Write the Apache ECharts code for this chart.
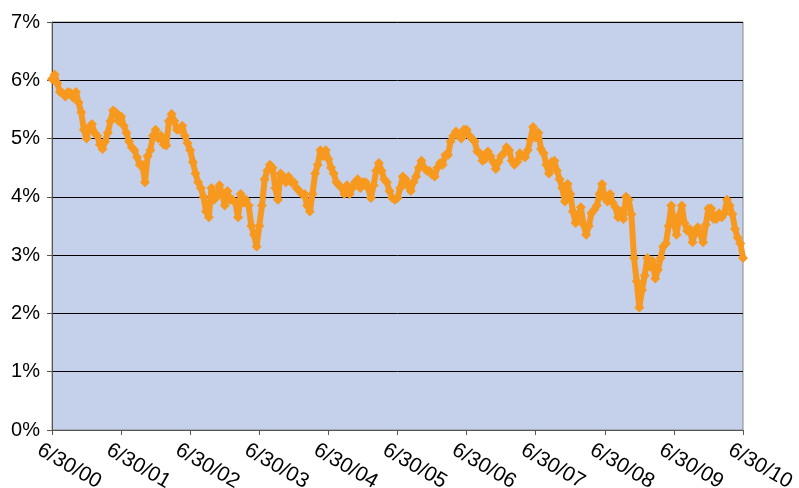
<!DOCTYPE html>
<html>
<head>
<meta charset="utf-8">
<script src="https://cdn.jsdelivr.net/npm/echarts@6/dist/echarts.min.js"></script>
<style>
html,body{margin:0;padding:0;background:#fff;}
#chart{width:799px;height:488px;}
</style>
</head>
<body>
<div id="chart"></div>
<script>
// Biweekly readings (percent), starting 6/30/00; 26 per year, last value is 6/30/10
var y2000_01 = [6.02, 6.10, 5.95, 5.80, 5.78, 5.72, 5.80, 5.78, 5.70, 5.80, 5.62, 5.45, 5.15, 5.00, 5.20, 5.25, 5.10, 5.05, 4.90, 4.82, 4.95, 5.10, 5.30, 5.48, 5.45, 5.30];
var y2001_02 = [5.38, 5.22, 5.10, 4.95, 4.85, 4.80, 4.68, 4.55, 4.55, 4.25, 4.70, 4.80, 5.05, 5.15, 5.00, 5.05, 4.90, 4.88, 5.30, 5.42, 5.30, 5.15, 5.15, 5.22, 5.05, 4.92];
var y2002_03 = [4.80, 4.60, 4.40, 4.25, 4.15, 4.00, 3.75, 3.65, 4.15, 3.95, 4.00, 4.20, 4.05, 3.85, 4.10, 3.95, 3.95, 3.90, 3.65, 4.05, 3.90, 3.95, 3.85, 3.50, 3.35, 3.15];
var y2003_04 = [3.50, 3.85, 4.30, 4.45, 4.55, 4.50, 4.15, 3.95, 4.40, 4.35, 4.25, 4.35, 4.25, 4.25, 4.15, 4.10, 4.05, 4.05, 3.85, 3.75, 4.05, 4.40, 4.55, 4.80, 4.70, 4.80];
var y2004_05 = [4.65, 4.50, 4.40, 4.25, 4.20, 4.15, 4.05, 4.20, 4.05, 4.15, 4.25, 4.30, 4.15, 4.25, 4.25, 4.15, 3.98, 4.20, 4.45, 4.58, 4.45, 4.30, 4.25, 4.10, 3.98, 3.95];
var y2005_06 = [3.98, 4.15, 4.35, 4.30, 4.18, 4.10, 4.25, 4.35, 4.50, 4.62, 4.50, 4.45, 4.45, 4.38, 4.35, 4.50, 4.58, 4.55, 4.72, 4.72, 4.95, 5.05, 5.12, 5.05, 5.00, 5.15];
var y2006_07 = [5.15, 5.05, 5.00, 4.95, 4.78, 4.75, 4.62, 4.65, 4.78, 4.70, 4.60, 4.48, 4.60, 4.70, 4.75, 4.85, 4.80, 4.62, 4.55, 4.60, 4.75, 4.70, 4.68, 4.80, 4.98, 5.20];
var y2007_08 = [5.02, 5.10, 4.82, 4.75, 4.55, 4.40, 4.60, 4.62, 4.45, 4.30, 4.15, 3.92, 4.22, 4.05, 3.75, 3.55, 3.62, 3.82, 3.52, 3.35, 3.50, 3.72, 3.78, 3.85, 4.05, 4.22];
var y2008_09 = [3.98, 3.92, 4.05, 3.90, 3.82, 3.65, 3.75, 3.62, 4.00, 3.95, 3.70, 2.95, 2.55, 2.10, 2.40, 2.65, 2.95, 2.80, 2.90, 2.60, 2.75, 2.95, 3.15, 3.20, 3.50, 3.85];
var y2009_10 = [3.55, 3.35, 3.68, 3.85, 3.55, 3.42, 3.45, 3.22, 3.40, 3.48, 3.35, 3.22, 3.52, 3.80, 3.80, 3.62, 3.62, 3.72, 3.65, 3.72, 3.95, 3.85, 3.70, 3.45, 3.30, 3.20, 2.95];

var stepsPerYear = 26;
var yLabels = ['0%', '1%', '2%', '3%', '4%', '5%', '6%', '7%'];
var xLabels = ['6/30/00', '6/30/01', '6/30/02', '6/30/03', '6/30/04', '6/30/05', '6/30/06', '6/30/07', '6/30/08', '6/30/09', '6/30/10'];

var values = [].concat(y2000_01, y2001_02, y2002_03, y2003_04, y2004_05, y2005_06, y2006_07, y2007_08, y2008_09, y2009_10);
var seriesData = values.map(function (v, i) { return [i / stepsPerYear, v]; });

var chart = echarts.init(document.getElementById('chart'), null, { renderer: 'canvas' });
chart.setOption({
  animation: false,
  backgroundColor: '#ffffff',
  grid: {
    left: 52, top: 22, right: 56, bottom: 58,
    containLabel: false, outerBoundsMode: 'none',
    show: true, backgroundColor: '#C5D0EA', borderColor: '#8a8a8a', borderWidth: 1
  },
  xAxis: {
    type: 'value', min: 0, max: 10, interval: 1,
    axisLine: { show: true, lineStyle: { color: '#555555', width: 1 } },
    axisTick: { show: true, inside: false, length: 5, lineStyle: { color: '#555555' } },
    splitLine: { show: false },
    axisLabel: {
      rotate: -30, margin: 14, verticalAlign: 'top', padding: [0, 0, 0, -9],
      color: '#000', fontSize: 21, fontFamily: 'Liberation Sans, Arial, sans-serif',
      formatter: function (v) { return xLabels[Math.round(v)] || ''; }
    }
  },
  yAxis: {
    type: 'value', min: 0, max: 7, interval: 1,
    axisLine: { show: true, lineStyle: { color: '#555555', width: 1 } },
    axisTick: { show: true, inside: false, length: 5, lineStyle: { color: '#555555' } },
    splitLine: { show: true, lineStyle: { color: '#000000', width: 1 } },
    axisLabel: {
      margin: 12, color: '#000', fontSize: 20, fontFamily: 'Liberation Sans, Arial, sans-serif',
      formatter: function (v) { return yLabels[Math.round(v)] || ''; }
    }
  },
  series: [{
    type: 'line',
    data: seriesData,
    symbol: 'diamond',
    symbolSize: 10,
    showAllSymbol: true,
    lineStyle: { color: '#F7991F', width: 6, join: 'round', cap: 'round' },
    itemStyle: { color: '#F7991F' }
  }]
});
</script>
</body>
</html>
